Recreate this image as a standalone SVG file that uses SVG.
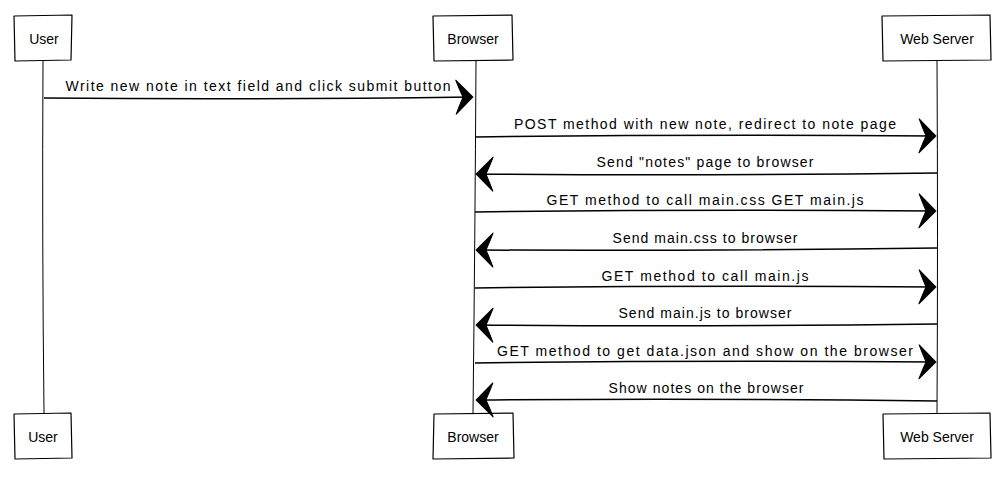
<svg xmlns="http://www.w3.org/2000/svg" width="1004" height="483" viewBox="0 0 1004 483">
<style>
.box{fill:#fff;stroke:#000;stroke-width:1.2;stroke-linejoin:round}
.life{fill:none;stroke:#000;stroke-width:1}
.msg{fill:none;stroke:#000;stroke-width:1.5}
.plabel{font-family:"Liberation Sans",Arial,sans-serif;font-size:14px;fill:#000;text-anchor:middle}
.mlabel{font-family:"Liberation Sans",Arial,sans-serif;font-size:14px;fill:#000;text-anchor:middle}
</style>
<defs>
<marker id="arr" viewBox="-19 -18 21 36" refX="0" refY="0" markerWidth="21" markerHeight="36" markerUnits="userSpaceOnUse" orient="auto">
<path d="M1,0 L-16,-17 Q-13,-9 -9,0 Q-13,9 -16,17 Z" fill="#000" stroke="#000" stroke-width="1" stroke-linejoin="round"/>
</marker>
</defs>
<g id="lifelines">
<path class="life" d="M43,60 Q42,240 44,413"/>
<path class="life" d="M476,60 Q475,240 473,413"/>
<path class="life" d="M937,60 Q938,240 937,413"/>
</g>
<g id="User-top"><path class="box" d="M14,16 L72,15 L71,60 L15,61 Z"/><text class="plabel" x="44" y="44">User</text></g>
<g id="Browser-top"><path class="box" d="M433,16 L512,15 L513,60 L434,61 Z"/><text class="plabel" x="473" y="44">Browser</text></g>
<g id="WebServer-top"><path class="box" d="M882,16 L990,15 L991,60 L883,61 Z"/><text class="plabel" x="937" y="44">Web Server</text></g>
<g id="User-bottom"><path class="box" d="M14,414 L71,413 L72,458 L15,459 Z"/><text class="plabel" x="43" y="442">User</text></g>
<g id="Browser-bottom"><path class="box" d="M434,414 L513,413 L514,458 L433,459 Z"/><text class="plabel" x="473" y="442">Browser</text></g>
<g id="WebServer-bottom"><path class="box" d="M883,414 L990,413 L991,458 L884,459 Z"/><text class="plabel" x="937" y="442">Web Server</text></g>
<g id="connectors">
<path class="msg" marker-end="url(#arr)" d="M44,98 Q250,100 472,97"/>
<path class="msg" marker-end="url(#arr)" d="M475,137 Q700,134 935,136"/>
<path class="msg" marker-end="url(#arr)" d="M937,173 Q700,176 477,174"/>
<path class="msg" marker-end="url(#arr)" d="M475,212 Q700,209 935,211"/>
<path class="msg" marker-end="url(#arr)" d="M937,248 Q700,251 477,250"/>
<path class="msg" marker-end="url(#arr)" d="M475,288 Q700,285 935,287"/>
<path class="msg" marker-end="url(#arr)" d="M937,324 Q700,327 477,325"/>
<path class="msg" marker-end="url(#arr)" d="M475,363 Q700,360 935,362"/>
<path class="msg" marker-end="url(#arr)" d="M937,401 Q700,398 477,400"/>
</g>
<g id="labels">
<text class="mlabel" x="258" y="91" textLength="385">Write new note in text field and click submit button</text>
<text class="mlabel" x="705" y="129" textLength="382">POST method with new note, redirect to note page</text>
<text class="mlabel" x="705" y="167" textLength="217">Send "notes" page to browser</text>
<text class="mlabel" x="705" y="205" textLength="317">GET method to call main.css GET main.js</text>
<text class="mlabel" x="705" y="243" textLength="185">Send main.css to browser</text>
<text class="mlabel" x="705" y="281" textLength="207">GET method to call main.js</text>
<text class="mlabel" x="705" y="318" textLength="173">Send main.js to browser</text>
<text class="mlabel" x="705" y="356" textLength="416">GET method to get data.json and show on the browser</text>
<text class="mlabel" x="706" y="393" textLength="195">Show notes on the browser</text>
</g>
</svg>
